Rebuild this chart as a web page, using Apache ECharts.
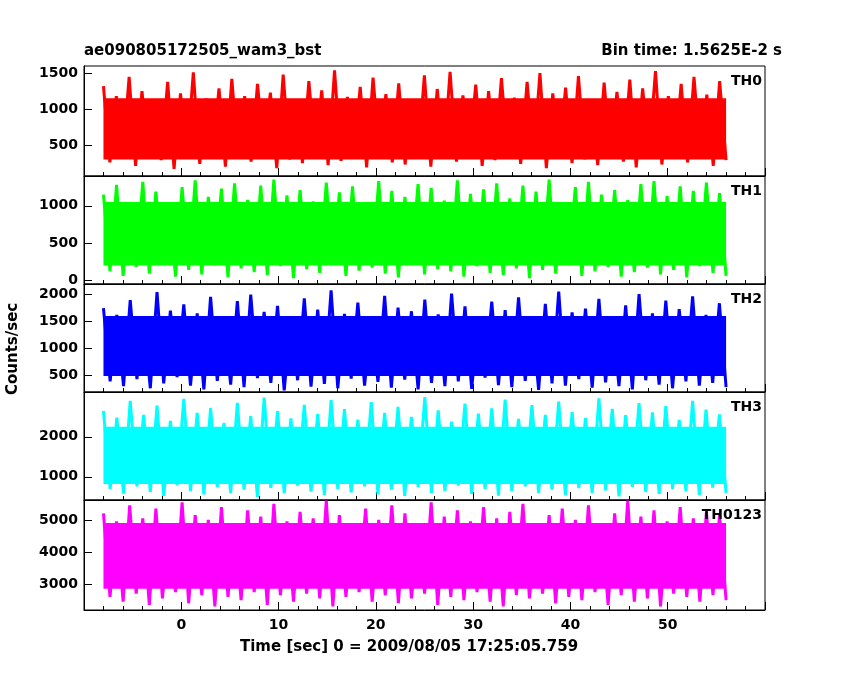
<!DOCTYPE html>
<html><head><meta charset="utf-8">
<script src="https://cdn.jsdelivr.net/npm/echarts@6/dist/echarts.min.js"></script>
<style>html,body{margin:0;background:#fff}#c{width:850px;height:680px}</style>
</head><body><div id="c"></div>
<script>
// light curve values (alternating peaks / dips)
const th0 = [1320,260,1180,340,1450,210,1250,380,1100,290,1380,170,1220,330,1510,240,1150,360,1290,200,1420,310,1180,270,1350,390,1230,180,1480,300,1120,250,1390,350,1260,220,1540,280,1170,330,1310,190,1440,370,1210,260,1360,230,1130,340,1470,200,1280,310,1520,270,1190,380,1340,210,1250,290,1430,350,1160,240,1380,320,1500,180,1220,360,1300,250,1460,300,1140,220,1370,340,1240,270,1410,190,1290,380,1530,230,1180,310,1350,260,1450,330,1200,210,1390,290]
const th1 = [1150,120,1280,60,1050,180,1320,90,1190,220,1010,50,1250,140,1340,80,1120,200,1230,40,1300,160,1080,110,1270,70,1350,190,1140,30,1210,150,1060,100,1310,230,1180,60,1260,130,1030,170,1330,90,1200,40,1120,210,1290,80,1240,150,1070,120,1340,50,1160,190,1220,100,1300,70,1100,160,1270,30,1190,140,1350,90,1040,200,1250,60,1320,120,1150,180,1210,50,1080,110,1290,170,1330,80,1130,140,1260,40,1200,190,1310,100,1170,60]
const th2 = [1750,380,1620,290,1900,420,1580,250,2050,340,1700,460,1820,300,1650,230,1960,390,1540,320,1880,270,2000,440,1680,350,1790,210,1600,400,1930,280,1720,330,2080,250,1640,430,1850,300,1570,370,1980,260,1760,410,1690,230,1910,350,1630,290,2020,380,1780,240,1560,450,1870,310,1710,270,1950,390,1600,220,1830,340,2060,300,1670,420,1740,260,1920,360,1590,290,1800,230,2010,400,1650,320,1890,250,1730,380,1970,300,1620,350,1840,270]
const th3 = [2650,700,2480,580,2900,760,2550,620,2780,520,2400,800,2950,650,2600,560,2720,740,2350,600,2850,680,2520,500,2980,720,2640,590,2460,780,2800,630,2570,540,2920,700,2690,610,2430,760,2870,560,2600,680,2750,520,2500,740,2990,600,2660,650,2380,780,2830,570,2580,700,2710,530,2930,640,2450,760,2790,600,2550,680,2880,540,2620,720,2470,590,2960,660,2700,510,2540,750,2840,620,2610,570,2770,700,2420,640,2900,550,2680,730,2560,600]
const th0123 = [5200,2600,4950,2450,5450,2700,5050,2350,5350,2550,4850,2750,5550,2400,5150,2650,5000,2300,5400,2600,4900,2500,5300,2750,5100,2350,5500,2650,4950,2450,5250,2700,5050,2550,5600,2300,5150,2600,4850,2750,5350,2450,5000,2650,5450,2400,5200,2550,4900,2700,5550,2350,5100,2600,5300,2500,4950,2750,5400,2450,5050,2300,5250,2650,5500,2550,4850,2700,5150,2400,5350,2600,5000,2500,5450,2750,4900,2350,5200,2650,5600,2450,5100,2550,5300,2300,4950,2700,5400,2600,5050,2450,5250,2650,5150,2500]
// dense core of each light curve (where the bins overlap solidly)
const coreLo = [300, 200, 480, 820, 2850]
const coreHi = [1150, 1050, 1600, 2250, 4900]

const names = ['TH0', 'TH1', 'TH2', 'TH3', 'TH0123']
const series = [th0, th1, th2, th3, th0123]
const colors = ['#ff0000', '#00ff00', '#0000ff', '#00ffff', '#ff00ff']
const yMin = [70, -50, 180, 420, 2190]
const yMax = [1600, 1400, 2200, 3120, 5620]
const yTicks = [[500, 1000, 1500], [0, 500, 1000], [500, 1000, 1500, 2000], [1000, 2000], [3000, 4000, 5000]]
const tStart = -8, tEnd = 56

const tops = [66, 176, 284, 392, 500]
const heights = [110, 108, 108, 108, 110]
const font = 'DejaVu Sans'

let grid = [], xAxis = [], yAxis = [], ser = []
for (let i = 0; i < 5; i++) {
  grid.push({left: 84, right: 85, top: tops[i], height: heights[i], show: true, borderColor: '#000', borderWidth: 1})
  xAxis.push({
    type: 'value', gridIndex: i, min: -10, max: 60, interval: 10,
    axisLine: {onZero: false, lineStyle: {color: '#000'}},
    axisTick: {inside: true, length: 8, lineStyle: {color: '#000'}},
    minorTick: {show: true, splitNumber: 5, length: 4, lineStyle: {color: '#000'}},
    splitLine: {show: false},
    axisLabel: {show: i === 4, color: '#000', fontFamily: font, fontSize: 14, fontWeight: 'bold', margin: 8,
      formatter: v => (v < -5 || v > 55) ? '' : String(v)}
  })
  yAxis.push({
    type: 'value', gridIndex: i, min: yMin[i], max: yMax[i],
    axisLine: {show: true, onZero: false, lineStyle: {color: '#000'}},
    axisTick: {inside: true, length: 8, customValues: yTicks[i], lineStyle: {color: '#000'}},
    splitLine: {show: false},
    axisLabel: {color: '#000', fontFamily: font, fontSize: 14, fontWeight: 'bold', customValues: yTicks[i], margin: 6,
      formatter: v => String(v)}
  })
  const vals = series[i]
  const pts = vals.map((v, k) => [tStart + k * (tEnd - tStart) / (vals.length - 1), v])
  ser.push({
    type: 'line', xAxisIndex: i, yAxisIndex: i, data: pts, showSymbol: false,
    lineStyle: {color: colors[i], width: 3},
    silent: true, animation: false,
    markArea: {silent: true, itemStyle: {color: colors[i], opacity: 1},
      data: [[{coord: [tStart, coreLo[i]]}, {coord: [tEnd, coreHi[i]]}]]}
  })
}

const chart = echarts.init(document.getElementById('c'))
chart.setOption({
  backgroundColor: '#fff',
  animation: false,
  grid: grid, xAxis: xAxis, yAxis: yAxis, series: ser,
  graphic: [
    {type: 'text', left: 84, top: 44, style: {text: 'ae090805172505_wam3_bst', font: 'bold 15px ' + font, fill: '#000'}},
    {type: 'text', right: 68, top: 44, style: {text: 'Bin time: 1.5625E-2 s', font: 'bold 15px ' + font, fill: '#000'}},
    {type: 'text', left: 240, top: 640, style: {text: 'Time [sec] 0 = 2009/08/05 17:25:05.759', font: 'bold 15px ' + font, fill: '#000'}},
    {type: 'text', x: 6, y: 395, rotation: Math.PI / 2, style: {text: 'Counts/sec', font: 'bold 15px ' + font, fill: '#000'}}
  ].concat(names.map((n, i) => ({type: 'text', right: 88, top: tops[i] + 8, z: 100,
    style: {text: n, font: 'bold 14px ' + font, fill: '#000'}})))
})
</script>
</body></html>
